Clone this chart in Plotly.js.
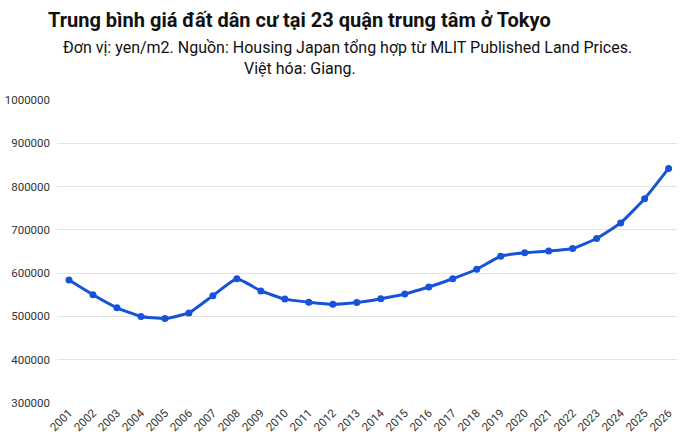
<!DOCTYPE html>
<html>
<head>
<meta charset="utf-8">
<script src="https://cdn.plot.ly/plotly-3.0.1.min.js"></script>
<style>
  body { margin: 0; background: #fff; }
  #chart { width: 700px; height: 448px; }
</style>
</head>
<body>
<div id="chart"></div>
<script>
// values (yen/m2)
var years = ['2001','2002','2003','2004','2005','2006','2007','2008','2009','2010',
             '2011','2012','2013','2014','2015','2016','2017','2018','2019','2020',
             '2021','2022','2023','2024','2025','2026'];
var prices = [584000, 550000, 520000, 500000, 495000, 508000, 548000, 587000, 559000, 540000,
              533000, 528000, 532000, 541000, 552000, 568000, 587000, 609000, 639000, 647000,
              651000, 657000, 680000, 716000, 772000, 842000];
var yTicks = [300000, 400000, 500000, 600000, 700000, 800000, 900000, 1000000];

var titleText = 'Trung bình giá đất dân cư tại 23 quận trung tâm ở Tokyo';
var subLine1 = 'Đơn vị: yen/m2. Nguồn: Housing Japan tổng hợp từ MLIT Published Land Prices.';
var subLine2 = 'Việt hóa: Giang.';

var blue = '#1753d9';

var plot_data = [
    {
        x: years,
        y: prices,
        type: 'scatter',
        mode: 'lines+markers',
        line: {
            color: blue,
            width: 3,
            shape: 'spline',
            smoothing: 0.4
        },
        marker: {
            color: blue,
            size: 7
        },
        hoverinfo: 'x+y'
    }
];

var layout = {
    width: 700,
    height: 448,
    margin: {
        l: 57,
        r: 23,
        t: 100,
        b: 45
    },
    paper_bgcolor: '#fff',
    plot_bgcolor: '#fff',
    showlegend: false,
    font: {
        family: 'Roboto, Arial, sans-serif',
        color: '#333'
    },
    title: {
        text: titleText,
        font: {
            family: 'Roboto, Arial, sans-serif',
            size: 20,
            color: '#111',
            weight: 'bold'
        },
        xref: 'container',
        yref: 'container',
        x: 48 / 700,
        xanchor: 'left',
        y: 1 - 20 / 448,
        yanchor: 'middle'
    },
    annotations: [
        {
            text: subLine1,
            xref: 'paper',
            yref: 'paper',
            x: (347 - 57) / 620,
            xanchor: 'center',
            y: 1 + (100 - 48) / 303,
            yanchor: 'middle',
            showarrow: false,
            font: { family: 'Roboto, Arial, sans-serif', size: 16, color: '#111' }
        },
        {
            text: subLine2,
            xref: 'paper',
            yref: 'paper',
            x: (300 - 57) / 620,
            xanchor: 'center',
            y: 1 + (100 - 68) / 303,
            yanchor: 'middle',
            showarrow: false,
            font: { family: 'Roboto, Arial, sans-serif', size: 16, color: '#111' }
        }
    ],
    xaxis: {
        type: 'category',
        range: [-0.5, 25.35],
        tickangle: -45,
        tickfont: { size: 11.5, color: '#333' },
        showgrid: false,
        showline: false,
        zeroline: false,
        ticks: '',
        fixedrange: true
    },
    yaxis: {
        range: [300000, 1000000],
        tickvals: yTicks,
        ticktext: yTicks.map(function(v) { return String(v); }),
        tickfont: { size: 11.5, color: '#333' },
        showgrid: true,
        gridcolor: '#e2e2e2',
        gridwidth: 1,
        showline: false,
        zeroline: false,
        ticks: '',
        ticklabelstandoff: 6,
        fixedrange: true
    }
};

var config = {displayModeBar: false, responsive: false};
Plotly.newPlot(document.getElementById('chart'), plot_data, layout, config);
</script>
</body>
</html>
